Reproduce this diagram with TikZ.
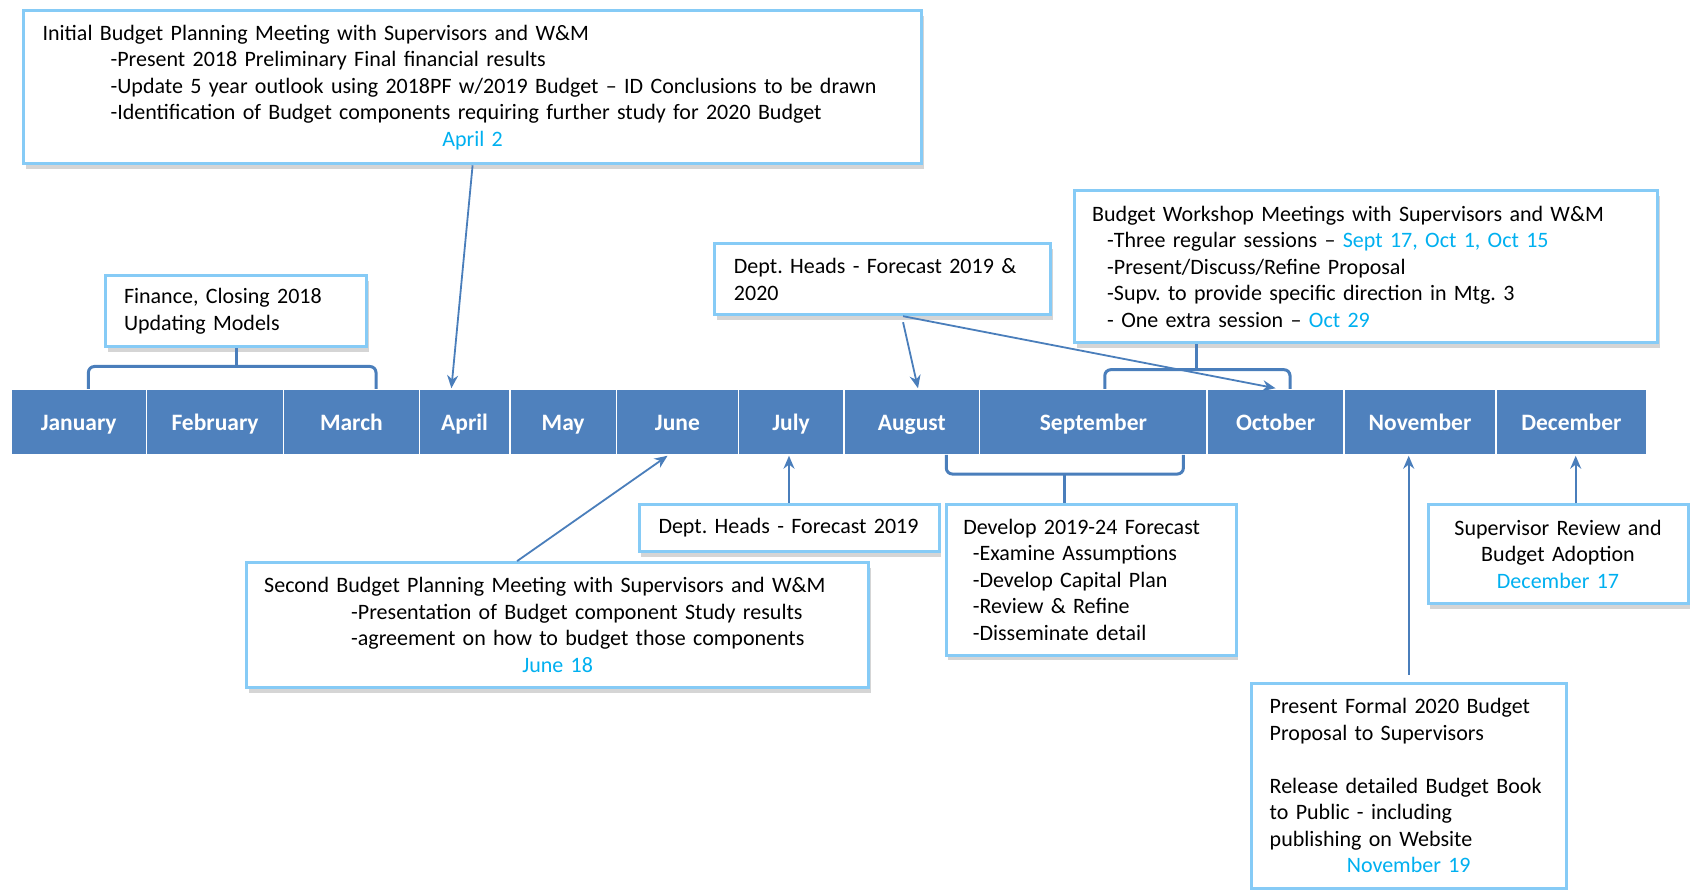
\documentclass[tikz,border=0pt]{standalone}
\usepackage{fontspec}
\setmainfont{Carlito}
\usetikzlibrary{calc,shadows,arrows.meta}
\definecolor{barblue}{HTML}{4F81BD}
\definecolor{linkblue}{HTML}{4A7EBB}
\definecolor{datecol}{HTML}{00B0F0}
\definecolor{edgecol}{HTML}{86CBF6}
\frenchspacing
\begin{document}
\begin{tikzpicture}[x=1pt,y=-1pt,
  month/.style={fill=barblue, draw=white, line width=1.5pt, text=white,
    font=\fontsize{23.5}{26}\selectfont\bfseries, minimum height=66pt, inner sep=0pt,
    text height=22pt, text depth=4pt},
  card/.style={fill=white, draw=edgecol, line width=3pt,
    drop shadow={shadow xshift=2pt, shadow yshift=-5pt, opacity=0.3, fill=black!55},
    font=\fontsize{22}{26.5}\selectfont, inner ysep=0pt, align=left},
  arr/.style={draw=linkblue, line width=1.8pt, -{Stealth[length=13pt,width=11pt]}},
  brk/.style={draw=linkblue, line width=3pt, rounded corners=6pt},
]
\useasboundingbox (0,0) rectangle (1690,890);

% month bar
\node[month, minimum width=135.8pt] (jan) at (78.7,422) {January};
\node[month, minimum width=136.9pt] (feb) at (215.05,422) {February};
\node[month, minimum width=135.8pt] (mar) at (351.4,422) {March};
\node[month, minimum width=90.5pt]  (apr) at (464.55,422) {April};
\node[month, minimum width=106.7pt] (may) at (563.15,422) {May};
\node[month, minimum width=121.8pt] (jun) at (677.4,422) {June};
\node[month, minimum width=105.6pt] (jul) at (791.1,422) {July};
\node[month, minimum width=135.8pt] (aug) at (911.8,422) {August};
\node[month, minimum width=227.4pt] (sep) at (1093.4,422) {September};
\node[month, minimum width=136.9pt] (oct) at (1275.55,422) {October};
\node[month, minimum width=152pt]   (nov) at (1420,422) {November};
\node[month, minimum width=150.9pt] (dec) at (1571.45,422) {December};

% cards
\node[card, minimum width=898pt, minimum height=153pt, inner xsep=19pt, text width=860pt] (init) at (472.6,87.3) {%
Initial Budget Planning Meeting with Supervisors and W\&M\\
\hspace*{68pt}-Present 2018 Preliminary Final financial results\\
\hspace*{68pt}-Update 5 year outlook using 2018PF w/2019 Budget – ID Conclusions to be drawn\\
\hspace*{68pt}-Identification of Budget components requiring further study for 2020 Budget\\
\makebox[\linewidth]{\color{datecol}April 2}};

\node[card, minimum width=261pt, minimum height=71pt, inner xsep=18.4pt, text width=224pt] (fin) at (236,311.5) {%
Finance, Closing 2018\\Updating Models};

\node[card, minimum width=336.3pt, minimum height=71pt, inner xsep=19.4pt, text width=297.5pt] (dhA) at (882.7,279.2) {%
Dept. Heads - Forecast 2019 \&\\2020};

\node[card, minimum width=583pt, minimum height=152pt, inner xsep=17.5pt, text width=548pt] (work) at (1366.2,266.7) {%
Budget Workshop Meetings with Supervisors and W\&M\\
\hspace*{15pt}-Three regular sessions – {\color{datecol}Sept 17, Oct 1, Oct 15}\\
\hspace*{15pt}-Present/Discuss/Refine Proposal\\
\hspace*{15pt}-Supv. to provide specific direction in Mtg. 3\\
\hspace*{15pt}- One extra session – {\color{datecol}Oct 29}};

\node[card, minimum width=622pt, minimum height=125pt, inner xsep=17.5pt, text width=587pt] (second) at (557.7,625.1) {%
Second Budget Planning Meeting with Supervisors and W\&M\\
\hspace*{87pt}-Presentation of Budget component Study results\\
\hspace*{87pt}-agreement on how to budget those components\\
\makebox[\linewidth]{\color{datecol}June 18}};

\node[card, minimum width=300pt, minimum height=47.4pt, inner xsep=19.5pt, text width=261pt] (dhB) at (789,528) {%
Dept. Heads - Forecast 2019};

\node[card, minimum width=290pt, minimum height=151pt, inner xsep=17pt, text width=256pt] (dev) at (1091.3,579.9) {%
Develop 2019-24 Forecast\\
\hspace*{9.5pt}-Examine Assumptions\\
\hspace*{9.5pt}-Develop Capital Plan\\
\hspace*{9.5pt}-Review \& Refine\\
\hspace*{9.5pt}-Disseminate detail};

\node[card, minimum width=260pt, minimum height=99pt, inner xsep=14pt, text width=232pt, align=center] (sup) at (1558,554) {%
Supervisor Review and\\Budget Adoption\\{\color{datecol}December 17}};

\node[card, minimum width=314.7pt, minimum height=205pt, inner xsep=18.3pt, text width=278pt] (pres) at (1408.7,785.6) {%
Present Formal 2020 Budget\\
Proposal to Supervisors\\[26.5pt]
Release detailed Budget Book\\
to Public - including\\
publishing on Website\\
\makebox[\linewidth]{\color{datecol}November 19}};

% brackets
\coordinate (fbL) at (88.4,389);
\coordinate (fbR) at (376,389);
\coordinate (fbM) at (236,366.5);
\draw[brk] (fbL) -- (88.4,366.5) -- (376,366.5) -- (fbR);
\draw[brk] (fin.south) -- (fbM);

\coordinate (wbL) at (1104.8,389);
\coordinate (wbR) at (1290,389);
\coordinate (wbM) at (1196.4,369.7);
\draw[brk] (wbL) -- (1104.8,369.7) -- (1290,369.7) -- (wbR);
\draw[brk] (wbM |- work.south) -- (wbM);

\coordinate (dbL) at (946.3,455);
\coordinate (dbR) at (1183.4,455);
\coordinate (dbM) at (1064.9,474);
\draw[brk] (dbL) -- (946.3,474) -- (1183.4,474) -- (dbR);
\draw[brk] (dbM) -- (dbM |- dev.north);

% arrows
\draw[arr] (init.south) -- ($(apr.north west)!0.357!(apr.north east)$);
\coordinate (dhAs) at ($(dhA.south west)!0.56!(dhA.south east)$);
\draw[arr] ([yshift=-6pt]dhAs) -- ($(aug.north west)!0.545!(aug.north east)$);
\draw[arr] (dhAs) -- (oct.north);
\draw[arr] ($(second.north west)!0.435!(second.north east)$) -- ($(jun.south west)!0.42!(jun.south east)$);
\draw[arr] (dhB.north) -- (dhB.north |- jul.south);
\draw[arr] ([yshift=7pt]pres.north) -- (pres.north |- nov.south);
\coordinate (supa) at ($(sup.north)+(17.7,0)$);
\draw[arr] (supa) -- (supa |- dec.south);
\end{tikzpicture}
\end{document}
